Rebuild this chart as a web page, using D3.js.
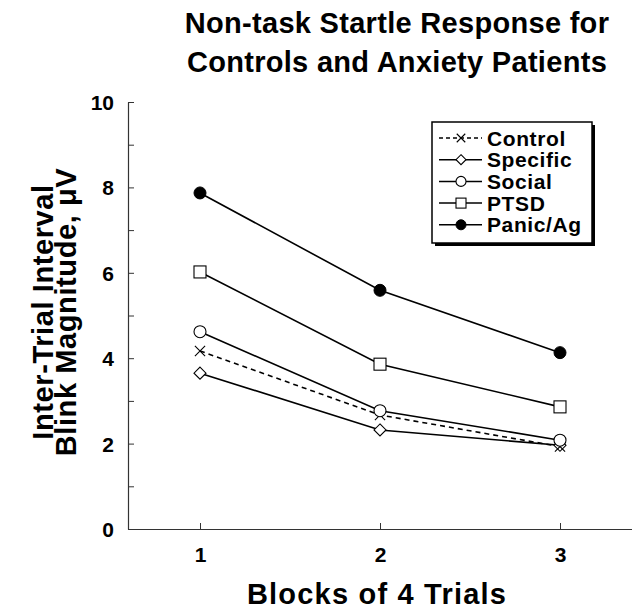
<!DOCTYPE html>
<html>
<head>
<meta charset="utf-8">
<script src="https://cdn.jsdelivr.net/npm/d3@7"></script>
<style>
  body { margin: 0; background: #fff; }
  svg text { font-family: "Liberation Sans", Arial, Helvetica, sans-serif; font-weight: bold; fill: #000; }
</style>
</head>
<body>
<div id="chart"></div>
<script>
// data
const blocks = [1, 2, 3];
const groups = ["Control", "Specific", "Social", "PTSD", "Panic/Ag"];
const control  = [4.17, 2.67, 1.93];
const specific = [3.65, 2.32, 1.96];
const social   = [4.62, 2.77, 2.08];
const ptsd     = [6.02, 3.86, 2.86];
const panic    = [7.87, 5.59, 4.13];
const yTicks = [0, 2, 4, 6, 8, 10];
const titleLines = ["Non-task Startle Response for", "Controls and Anxiety Patients"];
const yLabelLines = ["Inter-Trial Interval", "Blink Magnitude, \u03bcV"];
const xLabel = "Blocks of 4 Trials";

const seriesValues = [control, specific, social, ptsd, panic];
const symbols = ["cross", "diamond", "circle", "square", "dot"];

const W = 632, H = 611;
const margin = { top: 102, right: 0, bottom: 82, left: 128 };
const width = W - margin.left - margin.right;
const height = H - margin.top - margin.bottom;

const svg = d3.select("#chart").append("svg")
    .attr("width", W)
    .attr("height", H);

const g = svg.append("g")
    .attr("transform", "translate(" + margin.left + "," + margin.top + ")");

const x = d3.scaleLinear().domain([0.6, 3.4]).range([0, width]);
const y = d3.scaleLinear().domain([0, 10]).range([height, 0]);

// title
svg.append("text")
    .attr("x", 397)
    .attr("y", 33)
    .attr("text-anchor", "middle")
    .style("font-size", "29px")
    .style("letter-spacing", "0.3px")
    .selectAll("tspan")
    .data(titleLines)
    .join("tspan")
    .attr("x", 397)
    .attr("dy", (d, i) => i === 0 ? 0 : 39)
    .text(d => d);

// axes
const xAxis = d3.axisBottom(x).tickValues(blocks).tickSizeInner(-6).tickSizeOuter(0).tickPadding(18)
    .tickFormat(d3.format("d"));
const yAxis = d3.axisLeft(y).tickValues(d3.range(0, 11, 1)).tickSizeInner(-6).tickSizeOuter(0).tickPadding(14)
    .tickFormat(d => yTicks.includes(d) ? d : "");

const gx = g.append("g")
    .attr("class", "x-axis axis")
    .attr("transform", "translate(0," + height + ")")
    .call(xAxis);
const gy = g.append("g")
    .attr("class", "y-axis axis")
    .call(yAxis);

[gx, gy].forEach(a => {
    a.select(".domain").attr("stroke", "#333").attr("stroke-width", 1.2);
    a.selectAll(".tick line").attr("stroke", "#333").attr("stroke-width", 1);
    a.selectAll(".tick text")
        .style("font-size", "21px")
        .style("font-family", "'Liberation Sans', Arial, sans-serif")
        .style("font-weight", "bold")
        .attr("fill", "#000");
});
gy.selectAll(".tick text").attr("dy", "0.36em");

// axis labels
svg.append("text")
    .attr("transform", "translate(53,312) rotate(-90)")
    .attr("text-anchor", "middle")
    .style("font-size", "29px")
    .style("letter-spacing", "0.6px")
    .selectAll("tspan")
    .data(yLabelLines)
    .join("tspan")
    .attr("x", 0)
    .attr("dy", (d, i) => i === 0 ? 0 : 23)
    .text(d => d);

svg.append("text")
    .attr("x", 377)
    .attr("y", 604)
    .attr("text-anchor", "middle")
    .style("font-size", "29px")
    .style("letter-spacing", "1.2px")
    .text(xLabel);

// markers
function drawMarker(sel, type, size) {
    const s = size;
    if (type === "dot") {
        sel.append("circle").attr("r", s).attr("fill", "#000").attr("stroke", "#000");
    } else if (type === "circle") {
        sel.append("circle").attr("r", s).attr("fill", "#fff").attr("stroke", "#000").attr("stroke-width", 1.1);
    } else if (type === "square") {
        sel.append("rect").attr("x", -s).attr("y", -s).attr("width", 2 * s).attr("height", 2 * s)
            .attr("fill", "#fff").attr("stroke", "#000").attr("stroke-width", 1.1);
    } else if (type === "diamond") {
        sel.append("path").attr("d", "M0," + (-s) + "L" + s + ",0L0," + s + "L" + (-s) + ",0Z")
            .attr("fill", "#fff").attr("stroke", "#000").attr("stroke-width", 1.1);
    } else if (type === "cross") {
        const c = s * 0.85;
        sel.append("path").attr("d", "M" + (-c) + "," + (-c) + "L" + c + "," + c + "M" + (-c) + "," + c + "L" + c + "," + (-c))
            .attr("fill", "none").attr("stroke", "#000").attr("stroke-width", 1.1);
    }
}

const line = d3.line()
    .x((d, i) => x(blocks[i]))
    .y(d => y(d));

groups.forEach((name, k) => {
    g.append("path")
        .datum(seriesValues[k])
        .attr("d", line)
        .attr("fill", "none")
        .attr("stroke", "#000")
        .attr("stroke-width", 1.6)
        .attr("stroke-dasharray", k === 0 ? "5,4" : null);
});

// draw markers back-to-front so the upper series sit on top
[1, 0, 2, 3, 4].forEach(k => {
    seriesValues[k].forEach((v, i) => {
        const m = g.append("g").attr("transform", "translate(" + x(blocks[i]) + "," + y(v) + ")");
        drawMarker(m, symbols[k], 6);
    });
});

// legend
const lg = svg.append("g").attr("transform", "translate(432,122)");
lg.append("rect").attr("x", 3).attr("y", 3).attr("width", 160).attr("height", 121).attr("fill", "#000");
lg.append("rect").attr("x", 0).attr("y", 0).attr("width", 160).attr("height", 121)
    .attr("fill", "#fff").attr("stroke", "#000").attr("stroke-width", 1.5);

groups.forEach((name, k) => {
    const row = lg.append("g").attr("transform", "translate(0," + (16 + k * 21.7) + ")");
    row.append("line").attr("x1", 7).attr("x2", 50).attr("y1", 0).attr("y2", 0)
        .attr("stroke", "#000").attr("stroke-width", 1.5)
        .attr("stroke-dasharray", k === 0 ? "4,3" : null);
    const m = row.append("g").attr("transform", "translate(29,0)");
    drawMarker(m, symbols[k], 5);
    row.append("text").attr("x", 55).attr("y", 0).attr("dy", "0.36em")
        .style("font-size", "21px")
        .style("letter-spacing", "0.6px")
        .text(name);
});
</script>
</body>
</html>
